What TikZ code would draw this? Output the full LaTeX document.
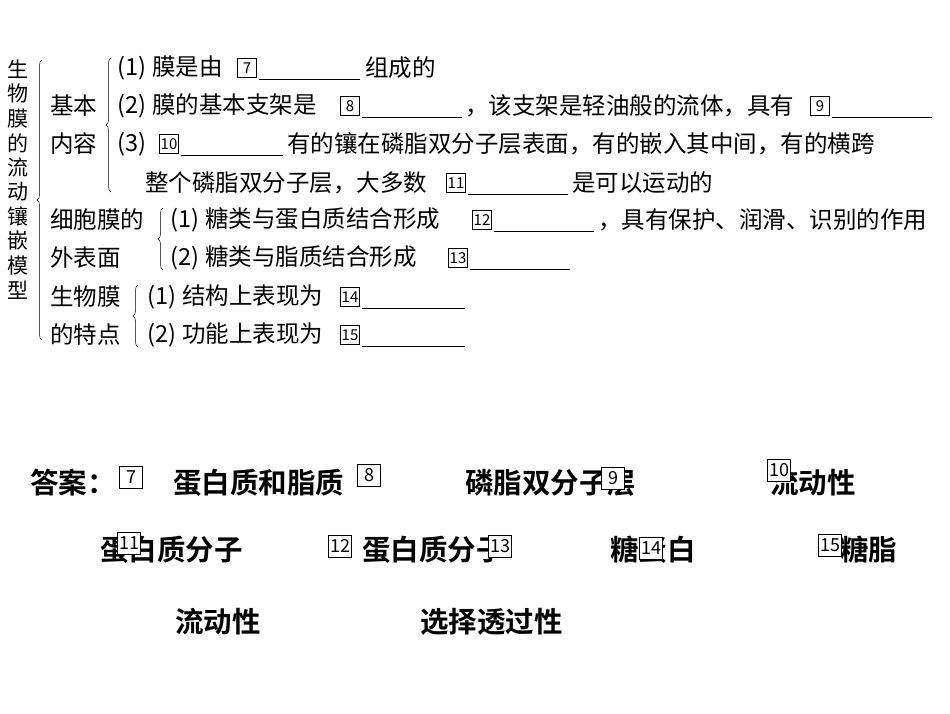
\documentclass[tikz,border=0pt]{standalone}
\usepackage{fontspec}
\setmainfont{Noto Sans CJK SC}
\newfontfamily\cjkb{Noto Sans CJK SC Bold}
\usetikzlibrary{decorations.pathreplacing}
\newcommand{\pn}[1]{\makebox[40pt][c]{(#1)}}
\begin{document}
\begin{tikzpicture}[x=1pt,y=-1pt,
 t/.style={anchor=west,inner sep=0pt,font=\fontsize{23.5}{23.5}\selectfont},
 a/.style={anchor=west,inner sep=0pt,font=\cjkb\fontsize{28.5}{28.5}\selectfont},
 nb/.style={draw,fill=white,inner sep=0.5pt,minimum width=19pt,minimum height=19pt,font=\fontsize{15}{15}\selectfont,line width=0.6pt},
 nba/.style={draw,fill=white,inner sep=0.5pt,minimum width=23pt,minimum height=22pt,font=\fontsize{18}{18}\selectfont,line width=0.6pt},
 br/.style={decorate,decoration={brace,amplitude=5pt,mirror},line width=0.5pt}]
\path[use as bounding box,fill=white] (0,0) rectangle (950,713);
% title
\foreach \c [count=\i] in {生,物,膜,的,流,动,镶,嵌,模,型}
  \node[inner sep=0pt,font=\fontsize{21}{21}\selectfont] (ti\i) at (18,{45+24.5*\i}) {\c};
\draw[br] (42,60) -- (42,340);
\node[t] (jb1) at (50,106) {基本};
\node[t] (jb2) at (50,144) {内容};
\draw[br] (111,58) -- (111,192);
\node[t] (l1) at (112,68) {\pn{1}膜是由};
\node[nb] (b7) at (247,68) {7};
\draw (259,79) -- (360,79);
\node[t] (l1b) at (365,68) {组成的};
\node[t] (l2) at (112,106) {\pn{2}膜的基本支架是};
\node[nb] (b8) at (350,106) {8};
\draw (362,117) -- (462,117);
\node[t] (l2b) at (465,106) {，该支架是轻油般的流体，具有};
\node[nb] (b9) at (820,106) {9};
\draw (832,117) -- (932,117);
\node[t] (l3) at (112,144) {\pn{3}};
\node[nb] (b10) at (169,144) {10};
\draw (181,155) -- (283,155);
\node[t] (l3b) at (287,144) {有的镶在磷脂双分子层表面，有的嵌入其中间，有的横跨};
\node[t] (l4) at (145,183) {整个磷脂双分子层，大多数};
\node[nb] (b11) at (456,183) {11};
\draw (468,194) -- (568,194);
\node[t] (l4b) at (572,183) {是可以运动的};
\node[t] (xb1) at (50,220) {细胞膜的};
\node[t] (xb2) at (50,258) {外表面};
\draw[br] (163,208) -- (163,270);
\node[t] (l5) at (165,220) {\pn{1}糖类与蛋白质结合形成};
\node[nb] (b12) at (482,220) {12};
\draw (494,231) -- (594,231);
\node[t] (l5b) at (598,220) {，具有保护、润滑、识别的作用};
\node[t] (l6) at (165,258) {\pn{2}糖类与脂质结合形成};
\node[nb] (b13) at (458,258) {13};
\draw (470,269) -- (570,269);
\node[t] (s1) at (50,297) {生物膜};
\node[t] (s2) at (50,335) {的特点};
\draw[br] (138,285) -- (138,347);
\node[t] (l7) at (142,297) {\pn{1}结构上表现为};
\node[nb] (b14) at (350,297) {14};
\draw (362,308) -- (465,308);
\node[t] (l8) at (142,335) {\pn{2}功能上表现为};
\node[nb] (b15) at (350,335) {15};
\draw (362,346) -- (465,346);
% answers
\node[a] (ans) at (30,483) {答案：};
\node[nba] (a7) at (131,477) {7};
\node[a] (r1) at (173,483) {蛋白质和脂质};
\node[nba] (a8) at (369,475) {8};
\node[a] (r2) at (465,483) {磷脂双分子层};
\node[nba] (a9) at (613,478) {9};
\node[a] (r3) at (770,483) {流动性};
\node[nba] (a10) at (779,470) {10};
\node[a] (r4) at (100,550) {蛋白质分子};
\node[nba] (a11) at (129,543) {11};
\node[nba] (a12) at (340,546) {12};
\node[a] (r5) at (362,550) {蛋白质分子};
\node[nba] (a13) at (500,546) {13};
\node[a] (r6) at (610,550) {糖蛋白};
\node[nba] (a14) at (651,548) {14};
\node[a] (r7) at (840,550) {糖脂};
\node[nba] (a15) at (830,545) {15};
\node[a] (r8) at (175,622) {流动性};
\node[a] (r9) at (420,622) {选择透过性};
\end{tikzpicture}
\end{document}
